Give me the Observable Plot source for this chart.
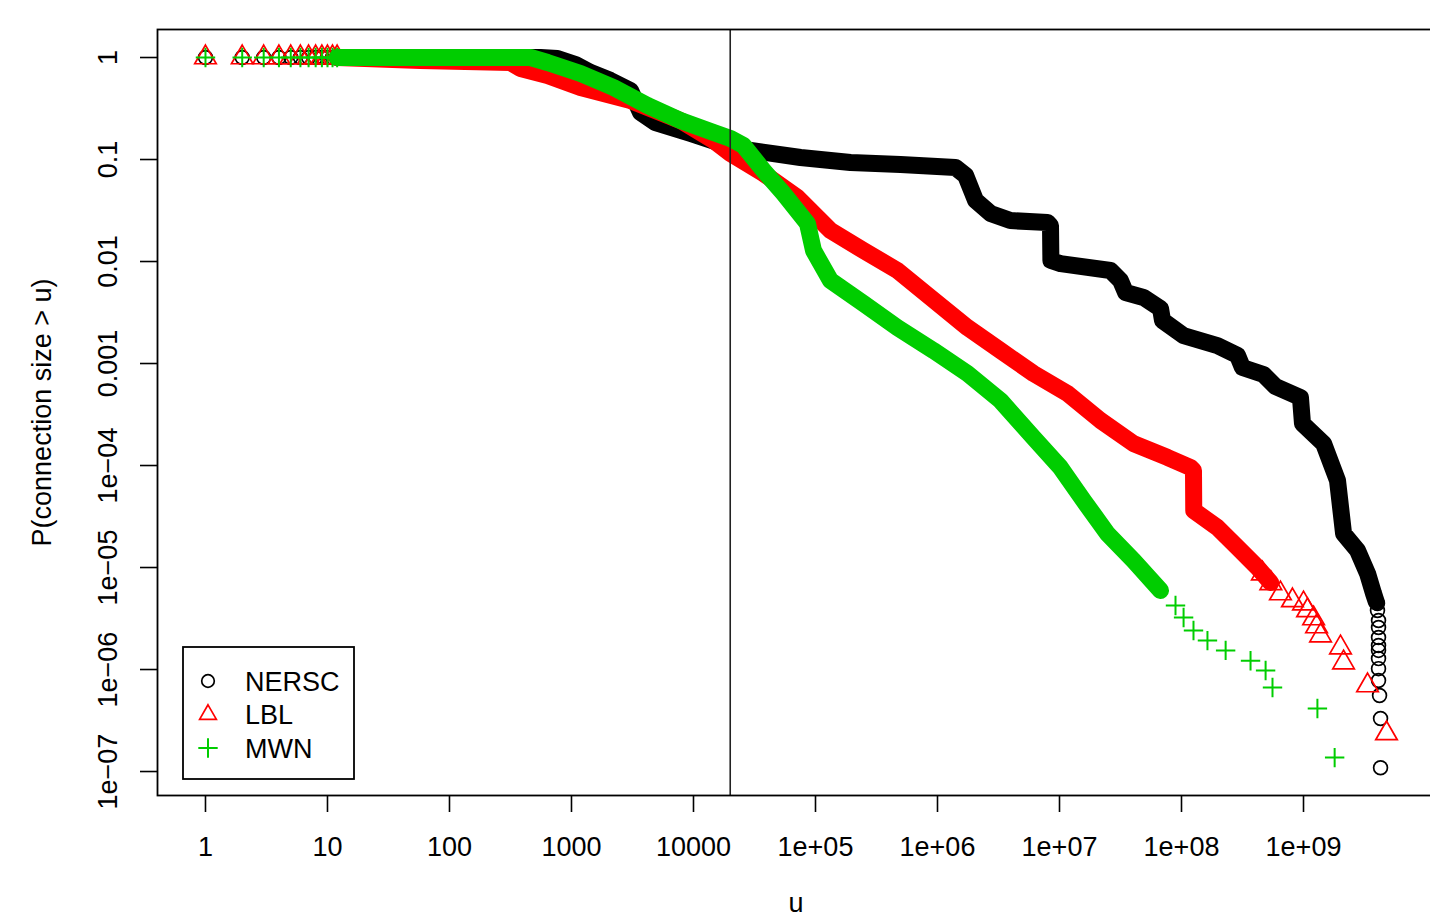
<!DOCTYPE html>
<html>
<head>
<meta charset="utf-8">
<script src="https://cdn.jsdelivr.net/npm/d3@7"></script>
<script src="https://cdn.jsdelivr.net/npm/@observablehq/plot@0.6"></script>
<style>
  html, body { margin: 0; padding: 0; background: white; }
  #chart svg { display: block; }
  g[aria-label$="tick"] { stroke-width: 1.6; }
</style>
</head>
<body>
<div id="chart"></div>
<script>
// ---- tick labels ----
const xTicks = [1, 10, 100, 1000, 10000, 1e5, 1e6, 1e7, 1e8, 1e9];
const xTickLabels = ["1", "10", "100", "1000", "10000", "1e+05", "1e+06", "1e+07", "1e+08", "1e+09"];
const yTicks = [1, 0.1, 0.01, 0.001, 1e-4, 1e-5, 1e-6, 1e-7];
const yTickLabels = ["1", "0.1", "0.01", "0.001", "1e\u221204", "1e\u221205", "1e\u221206", "1e\u221207"];

// ---- series ----
const seriesNames = ["NERSC", "LBL", "MWN"];
const seriesColors = ["#000000", "#ff0000", "#00cd00"];
const seriesSymbols = ["circle", "triangle", "plus"];

// discrete small sizes (all series) at P ~ 1
const headU = [1, 2, 3, 4, 5, 6, 7, 8, 9, 10, 11, 12];
const headP = [1, 1, 1, 1, 1, 1, 1, 1, 1, 1, 1, 1];

// NERSC dense part
const nerscBandU = [12, 557, 768, 1079, 1432, 2089, 3048, 3680, 4885, 9445, 20100, 26700, 75400, 193600, 497600,
  1.405e6, 1.70e6, 2.05e6, 2.72e6, 3.96e6, 7.98e6, 8.44e6, 8.5e6, 1.02e7, 2.62e7, 3.16e7, 3.48e7, 4.88e7, 6.73e7,
  6.99e7, 1.04e8, 1.97e8, 2.88e8, 3.16e8, 4.70e8, 5.89e8, 9.44e8, 9.81e8, 1.46e9, 1.90e9, 2.13e9, 2.77e9, 3.35e9, 3.75e9, 3.95e9];
const nerscBandP = [1, 1, 0.978, 0.854, 0.713, 0.595, 0.475, 0.289, 0.230, 0.180, 0.134, 0.125, 0.1047, 0.0935, 0.0893,
  0.0835, 0.0697, 0.0397, 0.0296, 0.0252, 0.0241, 0.0225, 0.01023, 0.00955, 0.00816, 0.00651, 0.00497, 0.00444, 0.00346,
  0.00264, 0.00188, 0.00150, 0.00120, 0.000914, 0.000780, 0.000595, 0.000464, 0.000258, 0.000164, 7.13e-5, 2.15e-5, 1.47e-5, 8.73e-6, 5.56e-6, 4.6e-6];
// NERSC sparse tail
const nerscTailU = [4.04e9, 4.04e9, 4.12e9, 4.12e9, 4.12e9, 4.12e9, 4.12e9, 4.12e9, 4.12e9, 4.12e9, 4.20e9, 4.28e9, 4.28e9];
const nerscTailP = [4.43e-6, 3.79e-6, 3.02e-6, 2.58e-6, 2.06e-6, 1.72e-6, 1.54e-6, 1.28e-6, 1.02e-6, 7.80e-7, 5.56e-7, 3.31e-7, 1.09e-7];

// LBL dense part
const lblBandU = [12, 57.8, 316, 382, 636, 1186, 3048, 7820, 14600, 20100, 37500, 71100, 132700, 247400, 469500, 876800,
  1.762e6, 3.28e6, 6.12e6, 1.164e7, 2.17e7, 4.05e7, 7.68e7, 1.186e8, 1.254e8, 1.26e8, 1.97e8, 3.05e8, 4.20e8, 5.37e8];
const lblBandP = [1, 0.934, 0.893, 0.780, 0.667, 0.508, 0.379, 0.241, 0.1536, 0.1145, 0.0729, 0.0424, 0.0201, 0.01282, 0.00816, 0.00444,
  0.00225, 0.00134, 0.000798, 0.000508, 0.000276, 0.000164, 0.000120, 9.55e-5, 8.93e-5, 3.62e-5, 2.47e-5, 1.47e-5, 1.0e-5, 7.13e-6];
// LBL sparse tail
const lblTailU = [4.6e8, 5.4e8, 6.47e8, 8.12e8, 1.0e9, 1.08e9, 1.21e9, 1.28e9, 1.38e9, 2.01e9, 2.13e9, 3.35e9, 4.79e9];
const lblTailP = [8.7e-6, 7.0e-6, 5.56e-6, 4.75e-6, 4.43e-6, 3.79e-6, 3.16e-6, 2.64e-6, 2.15e-6, 1.64e-6, 1.17e-6, 6.97e-7, 2.36e-7];

// MWN dense part
const mwnBandU = [12, 461, 636, 1186, 2209, 4200, 7820, 14600, 20100, 25700, 37500, 54700, 85900, 96300, 132700, 247400,
  469500, 927000, 1.762e6, 3.28e6, 6.12e6, 1.019e7, 1.574e7, 2.47e7, 4.05e7, 6.73e7];
const mwnBandP = [1, 1, 0.893, 0.697, 0.508, 0.338, 0.241, 0.184, 0.1607, 0.137, 0.078, 0.0464, 0.0236, 0.01282, 0.00651, 0.00388,
  0.00225, 0.00134, 0.000798, 0.000434, 0.000188, 9.55e-5, 4.54e-5, 2.15e-5, 1.17e-5, 5.95e-6];
// MWN sparse tail
const mwnTailU = [8.93e7, 1.04e8, 1.254e8, 1.632e8, 2.30e8, 3.68e8, 4.89e8, 5.57e8, 1.30e9, 1.80e9];
const mwnTailP = [4.24e-6, 3.24e-6, 2.41e-6, 1.92e-6, 1.54e-6, 1.22e-6, 9.78e-7, 6.66e-7, 4.15e-7, 1.37e-7];

// reference line
const thresholdU = [20000];

// ---- build ----
const rows = (us, ps) => us.map((u, i) => ({u, p: ps[i]}));
const bands = [rows(nerscBandU, nerscBandP), rows(lblBandU, lblBandP), rows(mwnBandU, mwnBandP)];
const tails = [rows(nerscTailU, nerscTailP), rows(lblTailU, lblTailP), rows(mwnTailU, mwnTailP)];
const head = rows(headU, headP);
const symbolR = {circle: 6.9, triangle: 8, plus: 6.3};
const symbolW = {circle: 1.7, triangle: 1.7, plus: 2};
const fontFamily = "'Liberation Sans', Arial, Helvetica, sans-serif";

const marks = [];
seriesNames.forEach((name, i) => {
  const c = seriesColors[i], s = seriesSymbols[i];
  marks.push(Plot.line(bands[i], {x: "u", y: "p", stroke: c, strokeWidth: 17, strokeLinejoin: "round", strokeLinecap: "round"}));
  marks.push(Plot.dot(head, {x: "u", y: "p", symbol: s, r: symbolR[s], stroke: c, strokeWidth: symbolW[s], fill: "none"}));
  marks.push(Plot.dot(tails[i], {x: "u", y: "p", symbol: s, r: symbolR[s], stroke: c, strokeWidth: symbolW[s], fill: "none"}));
});
marks.push(Plot.ruleX(thresholdU, {stroke: "#222", strokeWidth: 1.6}));
marks.push(Plot.frame({stroke: "black", strokeWidth: 1.8}));
marks.push(Plot.text(yTicks, {frameAnchor: "left", y: d => d, text: (d, i) => yTickLabels[i], rotate: -90, dx: -49, textAnchor: "middle", lineAnchor: "middle"}));
marks.push(Plot.text(["P(connection size > u)"], {frameAnchor: "left", rotate: -90, dx: -115, textAnchor: "middle", lineAnchor: "middle"}));
marks.push(Plot.text(["u"], {frameAnchor: "bottom", dy: 108, textAnchor: "middle", lineAnchor: "middle"}));

const svg = Plot.plot({
  width: 1430,
  height: 918,
  marginLeft: 157,
  marginRight: -4,
  marginTop: 29,
  marginBottom: 123,
  style: {fontFamily, fontSize: "27px", background: "white", color: "black"},
  x: {type: "log", domain: [0.4043, 1.185e10], ticks: xTicks, tickFormat: (d) => xTickLabels[xTicks.indexOf(d)], tickSize: 17, tickPadding: 24, label: null},
  y: {type: "log", domain: [5.82e-8, 1.882], ticks: yTicks, tickFormat: () => "", tickSize: 17, tickPadding: 0, label: null},
  marks
});

// legend
const lg = d3.select(svg).append("g").attr("font-family", fontFamily).attr("font-size", 27).attr("text-anchor", "start");
lg.append("rect").attr("x", 183).attr("y", 647).attr("width", 171).attr("height", 132)
  .attr("fill", "white").attr("stroke", "black").attr("stroke-width", 1.8);
seriesNames.forEach((name, i) => {
  const cy = 681 + i * 33.5;
  const s = seriesSymbols[i];
  const sym = {circle: d3.symbolCircle, triangle: d3.symbolTriangle2, plus: d3.symbolPlus}[s];
  const lr = s === "circle" ? 6.3 : symbolR[s];
  lg.append("path").attr("d", d3.symbol(sym, Math.PI * lr * lr)())
    .attr("transform", `translate(208,${cy})`).attr("fill", "none")
    .attr("stroke", seriesColors[i]).attr("stroke-width", symbolW[s]);
  lg.append("text").attr("x", 245).attr("y", cy).attr("dy", "0.36em").attr("text-anchor", "start").text(name);
});

document.getElementById("chart").appendChild(svg);
</script>
</body>
</html>
